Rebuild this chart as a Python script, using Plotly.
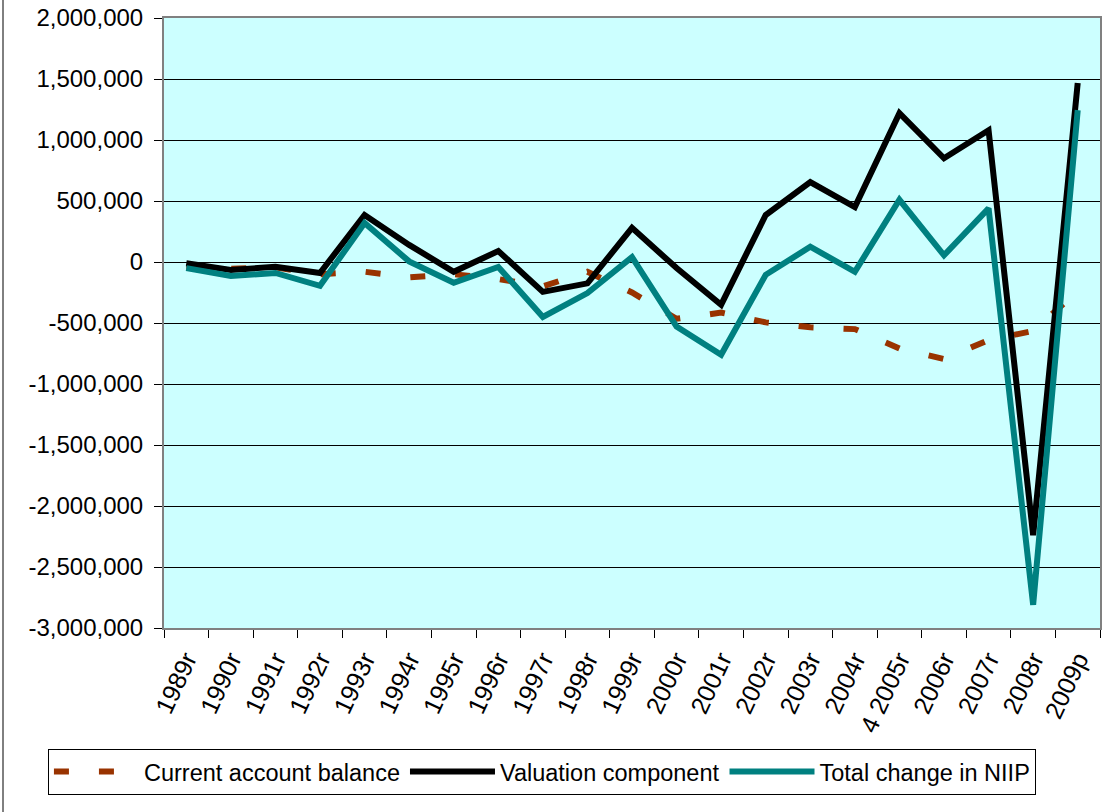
import plotly.graph_objects as go

years = ["1989r", "1990r", "1991r", "1992r", "1993r", "1994r", "1995r", "1996r",
         "1997r", "1998r", "1999r", "2000r", "2001r", "2002r", "2003r", "2004r",
         "4 2005r", "2006r", "2007r", "2008r", "2009p"]

current_account = [-40000, -55000, -45000, -100000, -80000, -125000, -100000, -140000,
                   -200000, -80000, -250000, -465000, -415000, -495000, -535000, -550000,
                   -710000, -795000, -640000, -565000, -240000]

valuation = [-10000, -65000, -40000, -90000, 385000, 140000, -80000, 90000,
             -245000, -175000, 280000, -50000, -350000, 385000, 655000, 450000,
             1220000, 850000, 1080000, -2240000, 1467000]

total_change = [-50000, -115000, -90000, -195000, 320000, 5000, -170000, -40000,
                -450000, -255000, 40000, -530000, -760000, -105000, 125000, -80000,
                510000, 55000, 440000, -2810000, 1245000]

y_tick_vals = [2000000, 1500000, 1000000, 500000, 0, -500000, -1000000, -1500000,
               -2000000, -2500000, -3000000]
y_tick_text = ["2,000,000", "1,500,000", "1,000,000", "500,000", "0", "-500,000",
               "-1,000,000", "-1,500,000", "-2,000,000", "-2,500,000", "-3,000,000"]

FONT = "Liberation Sans, Arial, sans-serif"

fig = go.Figure()
fig.add_trace(go.Scatter(x=years, y=current_account, mode="lines",
                         name="Current account balance",
                         line=dict(color="#993300", width=6, dash="15px,30px")))
fig.add_trace(go.Scatter(x=years, y=valuation, mode="lines",
                         name="Valuation component",
                         line=dict(color="#000000", width=6)))
fig.add_trace(go.Scatter(x=years, y=total_change, mode="lines",
                         name="Total change in NIIP",
                         line=dict(color="#008080", width=6)))

fig.update_layout(
    width=1112, height=812,
    margin=dict(l=164, r=12, t=18, b=184, autoexpand=False),
    paper_bgcolor="white",
    plot_bgcolor="#CCFFFF",
    font=dict(family=FONT, size=24, color="black"),
    showlegend=True,
    legend=dict(orientation="h", x=-0.124, xanchor="left", y=-0.198, yanchor="top",
                bordercolor="black", borderwidth=1, bgcolor="white",
                font=dict(family=FONT, size=23.5, color="black"),
                itemwidth=85, tracegroupgap=0),
)

fig.update_xaxes(
    type="category", range=[-0.5, 20.5], automargin=False,
    showgrid=False, showline=True, linecolor="#808080", linewidth=2, mirror=True,
    ticks="outside", ticklen=8, tickcolor="black", tickson="boundaries",
    tickangle=-65, tickfont=dict(family=FONT, size=25),
    ticklabelstandoff=5,
)
fig.update_yaxes(
    range=[-3000000, 2000000], tickmode="array", tickvals=y_tick_vals,
    ticktext=y_tick_text, automargin=False,
    showgrid=True, gridcolor="black", gridwidth=1,
    zeroline=False,
    showline=True, linecolor="#808080", linewidth=2, mirror=True,
    ticks="outside", ticklen=8, tickcolor="black",
    tickfont=dict(family=FONT, size=24),
    ticklabelstandoff=6,
)

fig.add_shape(type="line", xref="paper", yref="paper",
              x0=-0.1720, x1=-0.1720, y0=-0.31, y1=1.04,
              line=dict(color="black", width=1))

fig.write_html("out.html",
               config={"displayModeBar": False},
               post_script="document.body.style.margin='0';document.body.style.overflow='hidden';")
